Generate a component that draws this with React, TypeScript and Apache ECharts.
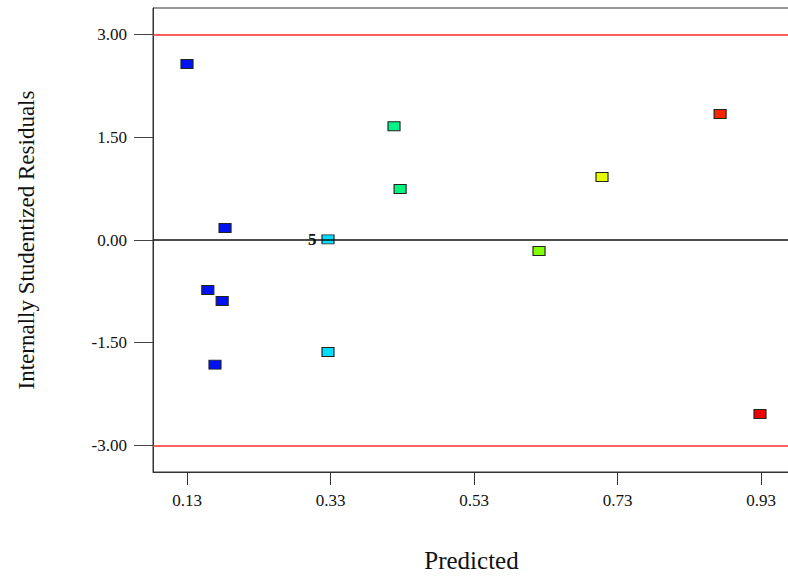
import { useEffect, useRef } from "react";
import * as echarts from "echarts";

const predicted = [0.13, 0.183, 0.159, 0.179, 0.169, 0.3265, 0.3265, 0.4185, 0.427, 0.6206, 0.7084, 0.873, 0.9286];
const residuals = [2.57, 0.175, -0.73, -0.89, -1.82, 0.01, -1.635, 1.66, 0.745, -0.16, 0.92, 1.84, -2.54];
const pointCounts = [1, 1, 1, 1, 1, 5, 1, 1, 1, 1, 1, 1, 1];
const xTicks = [0.13, 0.33, 0.53, 0.73, 0.93];
const yTicks = [-3, -1.5, 0, 1.5, 3];
const limitValues = [-3, 3];
const centerValue = 0;

const serif = "'Liberation Serif', 'Times New Roman', serif";

export default function App() {
  const ref = useRef<HTMLDivElement>(null);
  useEffect(() => {
    if (!ref.current) return;
    const chart = echarts.init(ref.current, undefined, { renderer: "svg" });
    const data = predicted.map((p, i) => ({
      value: [p, residuals[i]],
      label: {
        show: pointCounts[i] > 1,
        formatter: String(pointCounts[i]),
      },
    }));
    chart.setOption({
      animation: false,
      backgroundColor: "#ffffff",
      grid: {
        left: 153,
        top: 8,
        right: -2,
        bottom: 105,
        containLabel: false,
        outerBoundsMode: "none",
        show: true,
        borderColor: "#333",
        borderWidth: 1,
      },
      visualMap: {
        show: false,
        type: "continuous",
        dimension: 0,
        seriesIndex: 0,
        min: 0.13,
        max: 0.93,
        inRange: {
          color: ["#0014f2", "#0010f2", "#00e4ff", "#00f57a", "#40ff20", "#88ff00", "#ffff00", "#ff4000", "#f00000"],
        },
      },
      xAxis: {
        type: "value",
        min: 0.0826,
        max: 0.9704,
        name: "Predicted",
        nameLocation: "middle",
        nameGap: 76,
        nameTextStyle: { fontFamily: serif, fontSize: 25, color: "#111" },
        splitLine: { show: false },
        axisLine: { onZero: false, lineStyle: { color: "#333", width: 1 } },
        axisTick: { customValues: xTicks, length: 13, lineStyle: { color: "#333" } },
        axisLabel: {
          customValues: xTicks,
          formatter: (v: number) => v.toFixed(2),
          fontFamily: serif,
          fontSize: 17,
          color: "#111",
          margin: 20,
        },
      },
      yAxis: {
        type: "value",
        min: -3.387,
        max: 3.387,
        name: "Internally Studentized Residuals",
        nameLocation: "middle",
        nameGap: 115,
        nameTextStyle: { fontFamily: serif, fontSize: 23, color: "#111" },
        splitLine: { show: false },
        axisLine: { onZero: false, lineStyle: { color: "#333", width: 1 } },
        axisTick: { customValues: yTicks, length: 19, lineStyle: { color: "#444" } },
        axisLabel: {
          customValues: yTicks,
          formatter: (v: number) => v.toFixed(2),
          fontFamily: serif,
          fontSize: 17,
          color: "#111",
          margin: 26,
        },
      },
      series: [
        {
          type: "scatter",
          symbol: "rect",
          symbolSize: [12, 9],
          itemStyle: { borderColor: "#222", borderWidth: 1, opacity: 1 },
          label: {
            position: "left",
            distance: 5,
            fontFamily: serif,
            fontWeight: "bold",
            fontSize: 17,
            color: "#111",
          },
          data,
          markLine: {
            silent: true,
            symbol: "none",
            label: { show: false },
            data: [
              ...limitValues.map((v) => ({ yAxis: v, lineStyle: { color: "#ff2a2a", width: 1.5, type: "solid" } })),
              { yAxis: centerValue, lineStyle: { color: "#111", width: 1.5, type: "solid" } },
            ],
          },
          z: 3,
        },
      ],
    });
    return () => chart.dispose();
  }, []);
  return <div ref={ref} style={{ width: 788, height: 577, position: "absolute", left: 0, top: 0 }} />;
}
